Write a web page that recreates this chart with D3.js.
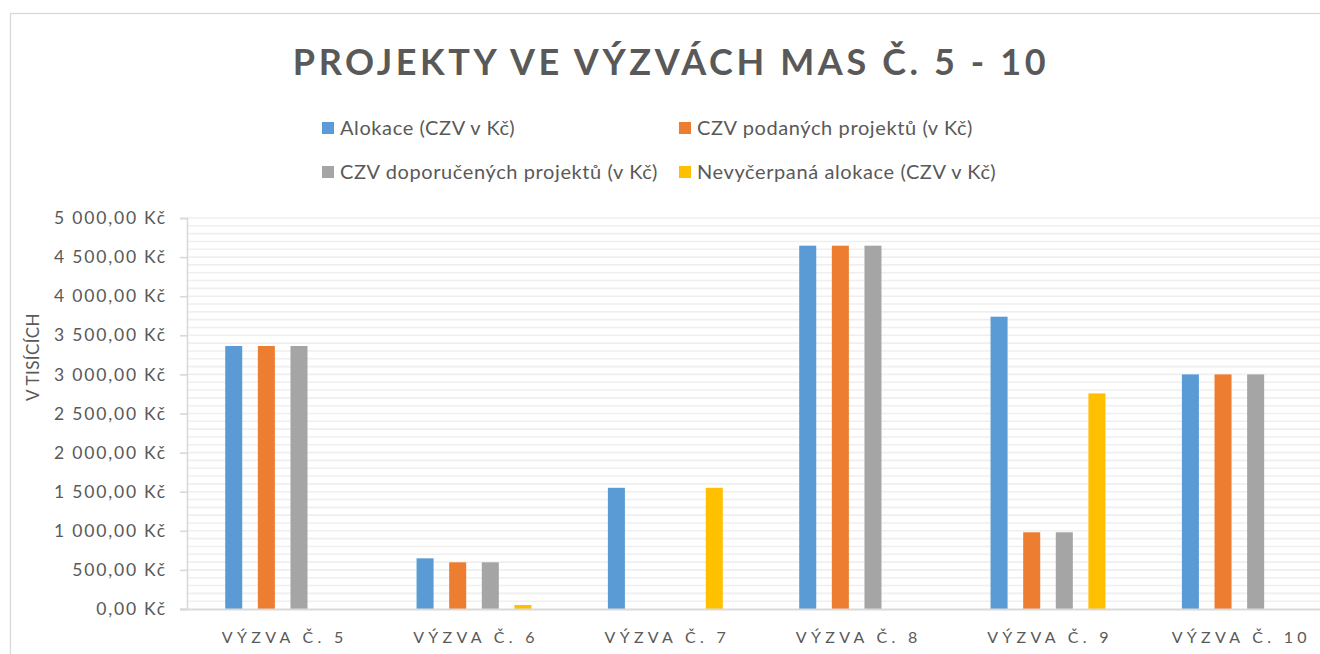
<!DOCTYPE html>
<html><head><meta charset="utf-8">
<script src="https://cdn.jsdelivr.net/npm/d3@7"></script>
<style>
html,body{margin:0;padding:0;background:#fff;}
svg{display:block;font-family:Lato,"Open Sans",sans-serif;}
</style></head>
<body>
<svg id="c" width="1320" height="654"></svg>
<script>
const categories = ["VÝZVA Č. 5","VÝZVA Č. 6","VÝZVA Č. 7","VÝZVA Č. 8","VÝZVA Č. 9","VÝZVA Č. 10"];
const seriesNames = ["Alokace (CZV v Kč)","CZV podaných projektů (v Kč)","CZV doporučených projektů (v Kč)","Nevyčerpaná alokace (CZV v Kč)"];
const alokace     = [3363, 648, 1550, 4646, 3738, 3000];
const podane      = [3363, 597,    0, 4646,  981, 3000];
const doporucene  = [3363, 597,    0, 4646,  981, 3000];
const nevycerpana = [   0,  51, 1550,    0, 2757,    0];
const colors = ["#5b9bd5","#ed7d31","#a5a5a5","#ffc000"];
const yTicks = [0,500,1000,1500,2000,2500,3000,3500,4000,4500,5000];
const minorTicks = d3.range(0, 5001, 100);
const titleText = "PROJEKTY VE VÝZVÁCH MAS Č. 5 - 10";
const yTitle = "V TISÍCÍCH";

const seriesValues = [alokace, podane, doporucene, nevycerpana];
const svg = d3.select("#c");
const txt = "#595959";

// chart border
svg.append("rect").attr("x",10.5).attr("y",13.5).attr("width",1340).attr("height",700)
  .attr("fill","none").attr("stroke","#d9d9d9").attr("stroke-width",1.3);

const plot = {left:187, right:1335, top:218, bottom:609};
const x = d3.scaleBand().domain(categories).range([plot.left, plot.right]).paddingInner(0).paddingOuter(0);
const y = d3.scaleLinear().domain([0,5000]).range([plot.bottom, plot.top]);
const bw = x.bandwidth();
const groupW = bw*0.682;
const sub = d3.scaleBand().domain(seriesNames).range([(bw-groupW)/2, (bw+groupW)/2]).paddingInner(0.478).paddingOuter(0.239);

// minor gridlines
svg.append("g").selectAll("line").data(minorTicks.filter(d=>d>0)).join("line")
  .attr("x1",plot.left).attr("x2",1320).attr("y1",d=>y(d)).attr("y2",d=>y(d))
  .attr("stroke","#efefef").attr("stroke-width",1.6);

// y axis
const loc = d3.formatLocale({decimal:",", thousands:"\u00a0", grouping:[3], currency:["","\u00a0Kč"]});
const fmt = loc.format("$,.2f");
const yAxis = svg.append("g").attr("transform",`translate(${plot.left},0)`)
  .call(d3.axisLeft(y).tickValues(yTicks).tickFormat(fmt).tickSize(7).tickPadding(13));
yAxis.select(".domain").attr("stroke","#d9d9d9").attr("stroke-width",1.6);
yAxis.selectAll(".tick line").attr("stroke","#d9d9d9").attr("stroke-width",1.6);
yAxis.selectAll(".tick text").attr("fill",txt).style("font-size","17.5px").style("letter-spacing","1.8px").style("font-family","Lato,sans-serif");

// bars
const groups = svg.append("g").selectAll("g").data(categories).join("g")
  .attr("transform",d=>`translate(${x(d)},0)`);
groups.selectAll("rect").data((c,i)=>seriesNames.map((s,j)=>({s, j, v:seriesValues[j][i]}))).join("rect")
  .attr("x",d=>sub(d.s)).attr("width",sub.bandwidth())
  .attr("y",d=>y(d.v)).attr("height",d=>y(0)-y(d.v))
  .attr("fill",d=>colors[d.j]);

// x axis line
svg.append("line").attr("x1",180).attr("x2",1320).attr("y1",plot.bottom+0.5).attr("y2",plot.bottom+0.5)
  .attr("stroke","#d9d9d9").attr("stroke-width",2.2);

// x labels
svg.append("g").selectAll("text").data(categories).join("text")
  .attr("x",d=>x(d)+bw/2+2).attr("y",643).attr("text-anchor","middle")
  .attr("fill",txt).style("font-size","16px").style("letter-spacing","4.3px").text(d=>d);

// y title
svg.append("text").attr("transform","translate(39,357) rotate(-90)").attr("text-anchor","middle")
  .attr("fill",txt).style("font-size","17px").style("letter-spacing","0.4px").text(yTitle);

// title
svg.append("text").attr("x",671).attr("y",75).attr("text-anchor","middle")
  .attr("fill",txt).style("font-size","36px").style("font-weight","bold").style("letter-spacing","3.6px").text(titleText);

// legend
const legPos = [[322,128],[679,128],[322,172],[679,172]];
const lg = svg.append("g").selectAll("g").data(seriesNames).join("g")
  .attr("transform",(d,i)=>`translate(${legPos[i][0]},${legPos[i][1]})`);
lg.append("rect").attr("x",0).attr("y",-6).attr("width",12).attr("height",12).attr("fill",(d,i)=>colors[i]);
lg.append("text").attr("x",18).attr("y",0).attr("dy","0.35em").attr("fill",txt).style("font-size","20px").style("letter-spacing","0.6px").text(d=>d);
</script>
</body></html>
